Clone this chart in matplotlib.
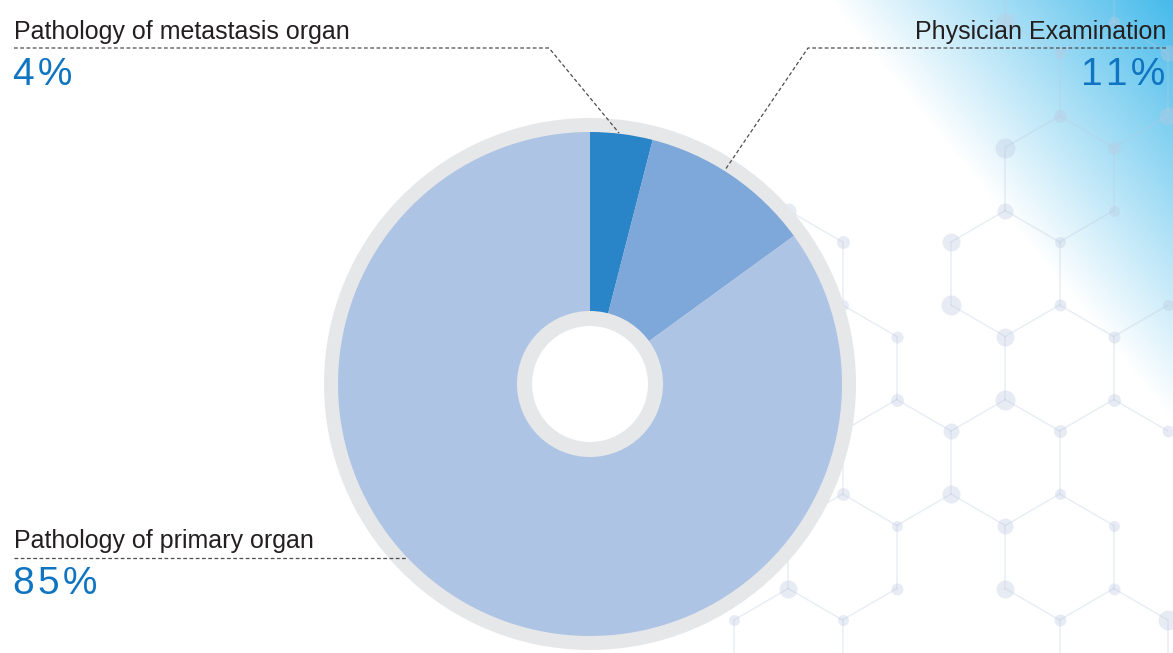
"""Donut chart: how the primary site was confirmed."""

import numpy as np
import matplotlib

matplotlib.use("Agg")
import matplotlib.pyplot as plt
from matplotlib.patches import Circle

plt.rcParams["font.family"] = ["Liberation Sans", "DejaVu Sans"]

# data (clockwise from 12 o'clock)
categories = ["Pathology of metastasis organ", "Physician Examination",
              "Pathology of primary organ"]
shares = [4, 11, 85]
share_labels = ["4\u200a%", "1\u200a1\u200a%", "8\u200a5\u200a%"]
slice_colors = ["#2a84c8", "#7ea8d9", "#aec4e4"]

W, H = 1173, 653
fig = plt.figure(figsize=(W / 100, H / 100), dpi=100)
ax = fig.add_axes([0, 0, 1, 1])

# ---- background: blue corner gradient ---------------------------------
yy, xx = np.mgrid[0:H, 0:W]
nx, ny = 420.0, -343.0
t = ((xx - 830) * nx + yy * ny) / np.hypot(nx, ny) / 266.0
t = np.clip(t, 0, 1)[..., None]
blue = np.array([0.27, 0.73, 0.92])
bg = (1 - t) * np.ones(3) + t * blue
ax.imshow(bg, extent=(0, W, H, 0), origin="upper", zorder=0, interpolation="bilinear")

# ---- background: hexagon network ----------------------------------------
col_x = [734 + 54.25 * i for i in range(9)]
side = 63.0


def row_top(k):
    return 53 + 94.5 * k


skip_vert = {(-1, 1), (-1, 3), (0, 0), (0, 2), (0, 4), (1, 1), (1, 3),
             (2, 8), (4, 8), (6, 4)}
skip_diag = {(-1, 5, 4), (0, 4, 5), (0, 0, 1), (0, 2, 1), (0, 2, 3),
             (1, 3, 2), (1, 3, 4), (1, 7, 8), (2, 4, 3), (4, 8, 7),
             (5, 3, 4), (5, 5, 4)}

vert_ok = {}
for k in range(-1, 7):
    for i in range(9):
        if i % 2 == k % 2:
            vert_ok[(k, i)] = (k, i) not in skip_vert

segments = []
nodes = set()
for (k, i), ok in vert_ok.items():
    y0 = row_top(k)
    if ok:
        segments.append(((col_x[i], y0), (col_x[i], y0 + side)))
        nodes.add((i, round(y0, 1)))
        nodes.add((i, round(y0 + side, 1)))
    for j in (i - 1, i + 1):
        if j < 0 or j > 8 or (k, i, j) in skip_diag:
            continue
        if not (ok or vert_ok.get((k + 1, j), False)):
            continue
        y1 = row_top(k + 1)
        segments.append(((col_x[i], y0 + side), (col_x[j], y1)))
        nodes.add((i, round(y0 + side, 1)))
        nodes.add((j, round(y1, 1)))

hex_color = (0.74, 0.79, 0.88)
for (a, b) in segments:
    ax.plot([a[0], b[0]], [a[1], b[1]], color=hex_color, alpha=0.33,
            lw=1.1, zorder=1, solid_capstyle="round")

size_cycle = [6.0, 9.0, 6.5, 10.0, 5.5, 8.0]
for n, (i, y) in enumerate(sorted(nodes)):
    r = size_cycle[(i * 3 + int(y) // 90 + n) % len(size_cycle)]
    ax.scatter(col_x[i], y, s=(2 * r * 0.72) ** 2, color=hex_color,
               alpha=0.35, linewidths=0, zorder=1)

# ---- donut --------------------------------------------------------------
cx, cy = 590, 384
ax.add_patch(Circle((cx, cy), 266, color="#e6e7e9", zorder=2, lw=0))
ax.pie(shares, colors=slice_colors, startangle=-90, counterclock=True,
       radius=252, center=(cx, cy), wedgeprops=dict(linewidth=0, zorder=3),
       frame=True)
for p in ax.patches[1:]:
    p.set_zorder(3)
ax.add_patch(Circle((cx, cy), 73, color="#e6e7e9", zorder=4, lw=0))
ax.add_patch(Circle((cx, cy), 58, color="white", zorder=5, lw=0))

# ---- leader lines + labels ---------------------------------------------
dash = dict(color="#4d4d4f", lw=0.9, linestyle=(0, (3, 2)), zorder=6)
ax.plot([14, 549, 619], [48, 48, 133], **dash)
ax.plot([1166, 808, 725], [48, 48, 170], **dash)
ax.plot([14, 407], [558, 558], **dash)

label_kw = dict(fontsize=18, color="#231f20", va="baseline", zorder=7)
pct_kw = dict(fontsize=28, color="#1075c1", va="baseline", zorder=7)

ax.text(14, 39, categories[0], ha="left", **label_kw)
ax.text(13, 85, share_labels[0], ha="left", **pct_kw)
ax.text(1166, 39, categories[1], ha="right", **label_kw)
ax.text(1165, 85, share_labels[1], ha="right", **pct_kw)
ax.text(14, 548, categories[2], ha="left", **label_kw)
ax.text(13, 594, share_labels[2], ha="left", **pct_kw)

ax.set_xlim(0, W)
ax.set_ylim(H, 0)
ax.set_aspect("auto")
ax.axis("off")

fig.savefig("out.png", dpi=100)
